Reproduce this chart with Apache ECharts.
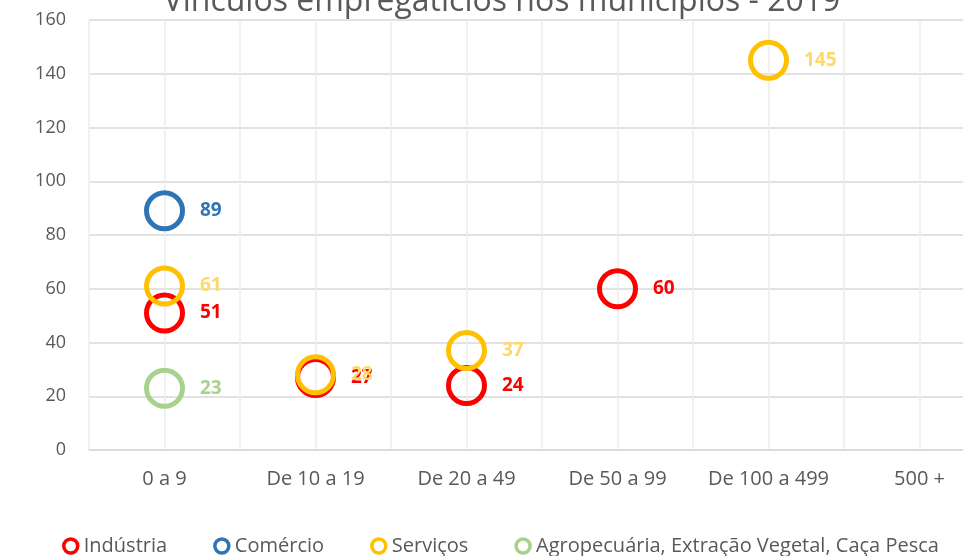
<!DOCTYPE html>
<html>
<head>
<meta charset="utf-8">
<script src="https://cdn.jsdelivr.net/npm/echarts@6/dist/echarts.min.js"></script>
<style>
    html, body { margin: 0; padding: 0; background: #fff; overflow: hidden; }
    /* o gráfico original é cortado à direita: a área vai além da janela */
    #chart { width: 1000px; height: 556px; }
</style>
</head>
<body>
<div id="chart"></div>
<script>
// faixas de tamanho dos estabelecimentos
const categorias = ['0 a 9', 'De 10 a 19', 'De 20 a 49', 'De 50 a 99', 'De 100 a 499', '500 +']
const industria = [51, 27, 24, 60, null, null]
const comercio = [89, null, null, null, null, null]
const servicos = [61, 28, 37, null, 145, null]
const agropecuaria = [23, null, null, null, null, null]

const fonte = 'Open Sans, Lato, sans-serif'

// meias faixas, só para as linhas verticais da grade
const meiasFaixas = []
for (let i = 0; i <= categorias.length * 2; i++) meiasFaixas.push('' + i)

function serie(name, data, cor, corLabel) {
    return {
        name: name,
        type: 'scatter',
        data: data,
        symbol: 'circle',
        symbolSize: 36,
        itemStyle: {
            color: 'rgba(0,0,0,0)',
            borderColor: cor,
            borderWidth: 5,
            opacity: 1
        },
        label: {
            show: true,
            position: 'right',
            distance: 15,
            color: corLabel,
            fontWeight: 'bold',
            fontSize: 19,
            fontFamily: fonte
        },
        emphasis: { disabled: true }
    }
}

function legenda(name, cor) {
    return {
        name: name,
        icon: 'circle',
        itemStyle: { color: '#fff', borderColor: cor, borderWidth: 3.5 }
    }
}

let option = {
    animation: false,
    title: {
        text: 'Vínculos empregatícios nos municípios - 2019',
        left: 497,
        textAlign: 'center',
        top: -19,
        textStyle: { color: '#595959', fontSize: 32, fontWeight: 'normal', fontFamily: fonte }
    },
    legend: {
        left: 57,
        top: 531,
        itemWidth: 14,
        itemHeight: 14,
        itemGap: 46,
        textStyle: { color: '#595959', fontSize: 20, fontFamily: fonte, padding: [0, 0, 0, 1] },
        data: [
            legenda('Indústria', '#FF0000'),
            legenda('Comércio', '#2E75B6'),
            legenda('Serviços', '#FFC000'),
            legenda('Agropecuária, Extração Vegetal, Caça Pesca', '#A9D18E')
        ]
    },
    grid: {
        left: 89,
        right: 5,
        top: 20,
        bottom: 106
    },
    xAxis: [
        {
            type: 'category',
            data: categorias,
            boundaryGap: true,
            axisLine: { show: true, lineStyle: { color: '#D9D9D9', width: 1.5 } },
            axisTick: { show: false },
            axisLabel: { interval: 0, color: '#595959', fontSize: 20, fontFamily: fonte, margin: 19 },
            splitLine: { show: false }
        },
        {
            type: 'category',
            data: meiasFaixas,
            boundaryGap: false,
            position: 'bottom',
            axisLine: { show: false },
            axisTick: { show: false },
            axisLabel: { show: false },
            splitLine: { show: true, interval: 0, lineStyle: { color: '#EDEDED', width: 1.5 } }
        }
    ],
    yAxis: {
        type: 'value',
        min: 0,
        max: 160,
        interval: 20,
        axisLine: { show: false },
        axisTick: { show: false },
        axisLabel: { color: '#595959', fontSize: 18, fontFamily: fonte, margin: 23 },
        splitLine: { lineStyle: { color: '#D9D9D9', width: 1.5 } }
    },
    series: [
        serie('Indústria', industria, '#FF0000', '#FF0000'),
        serie('Comércio', comercio, '#2E75B6', '#2E75B6'),
        serie('Serviços', servicos, '#FFC000', '#FFD966'),
        serie('Agropecuária, Extração Vegetal, Caça Pesca', agropecuaria, '#A9D18E', '#A9D18E')
    ]
}

var myChart = echarts.init(document.getElementById('chart'))
myChart.setOption(option)
</script>
</body>
</html>
